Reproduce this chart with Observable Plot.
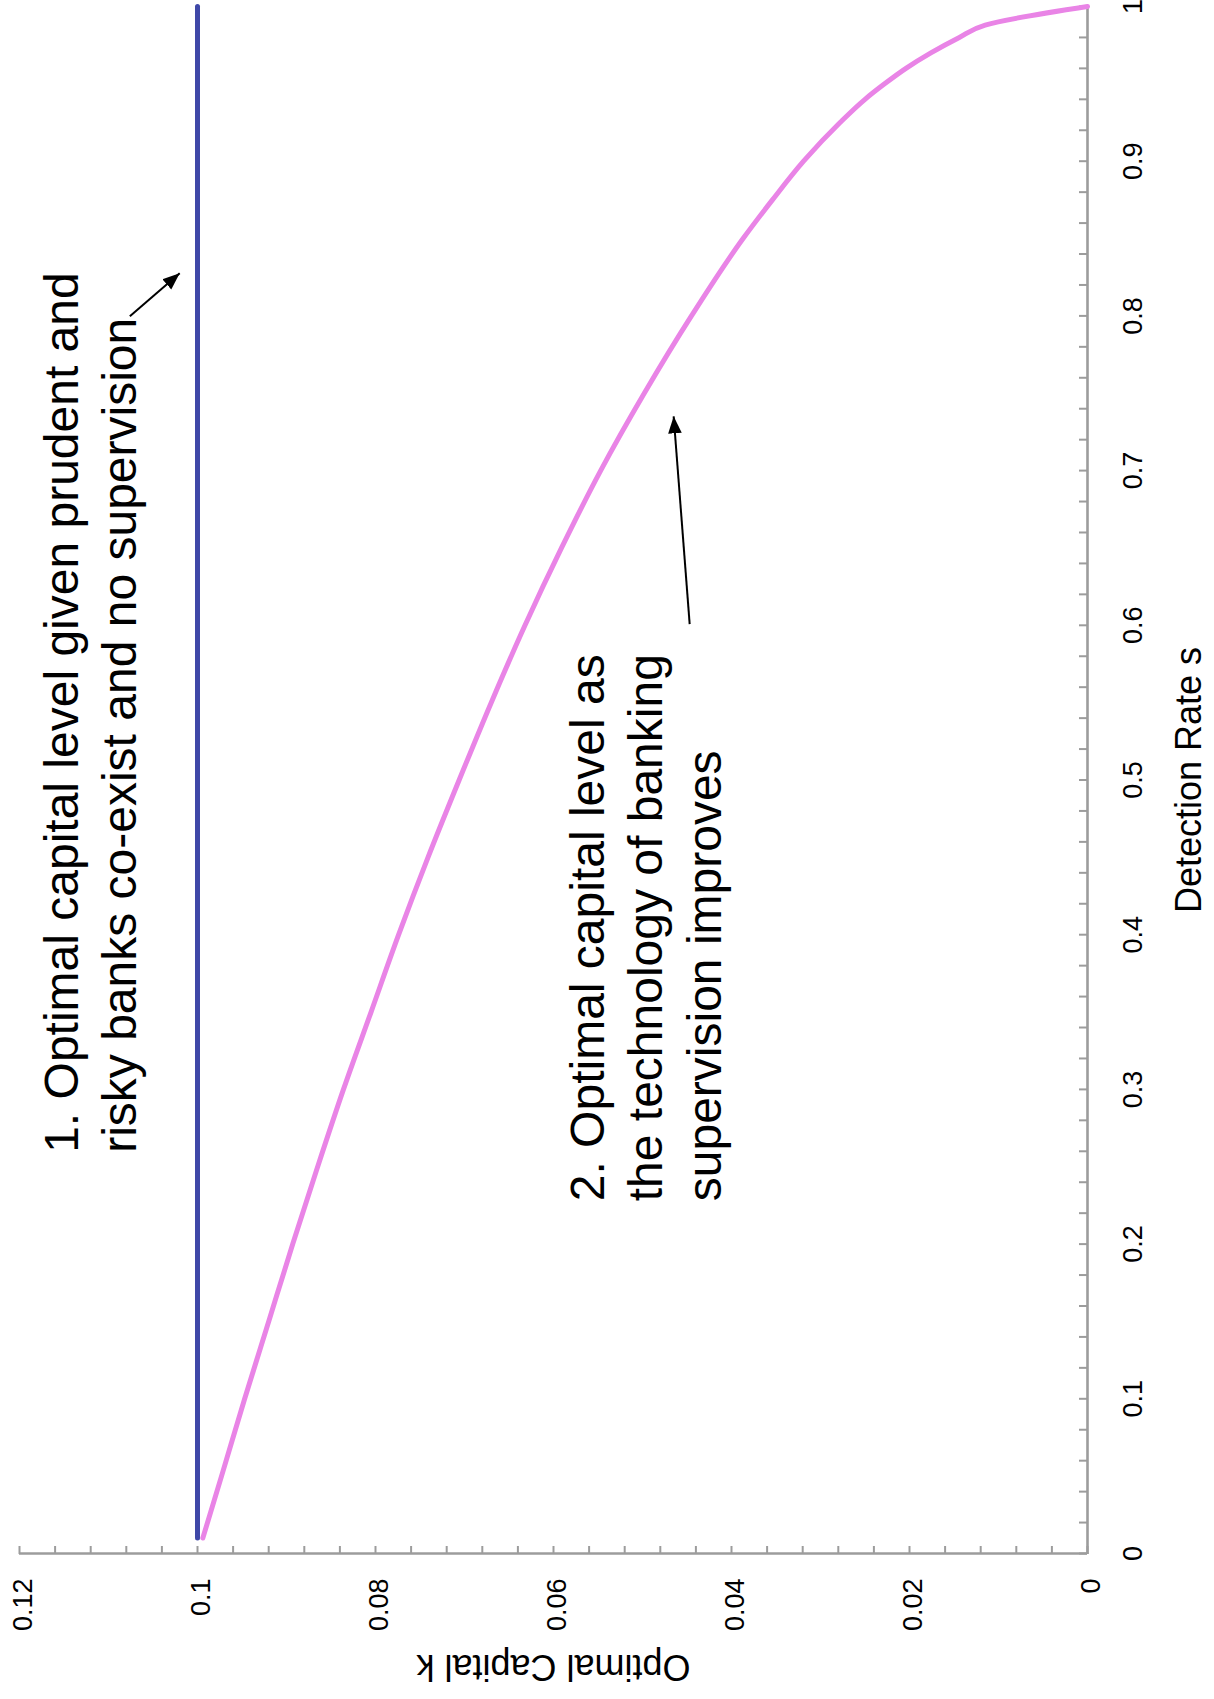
<!DOCTYPE html>
<html>
<head>
<meta charset="utf-8">
<script src="https://cdn.jsdelivr.net/npm/d3@7"></script>
<script src="https://cdn.jsdelivr.net/npm/@observablehq/plot@0.6"></script>
<style>
html, body { margin: 0; padding: 0; background: #fff; }
#page { position: relative; width: 1214px; height: 1699px; overflow: hidden; background: #fff; }
#chart { position: absolute; left: 0; top: 0; width: 1699px; height: 1214px; transform-origin: 0 0; transform: translate(0, 1699px) rotate(-90deg); }
</style>
</head>
<body>
<div id="page"><div id="chart"></div></div>
<script>
// ---- data ----
const detectionRate = [0.01, 0.05, 0.1, 0.15, 0.2, 0.25, 0.3, 0.35, 0.4, 0.45, 0.5, 0.55, 0.6, 0.65, 0.7, 0.75, 0.8, 0.85, 0.875, 0.9, 0.925, 0.94, 0.95, 0.96, 0.97, 0.98, 0.988, 1];
const capitalWithSupervision = [0.0994, 0.0973, 0.0947, 0.0920, 0.0893, 0.0865, 0.0836, 0.0805, 0.0774, 0.0741, 0.0706, 0.0670, 0.0632, 0.0591, 0.0547, 0.0498, 0.0445, 0.0387, 0.0354, 0.0319, 0.0278, 0.0250, 0.0228, 0.0204, 0.0176, 0.0144, 0.0115, 0];
const noSupervisionRate = [0.01, 1];
const noSupervisionCapital = [0.1, 0.1];

const sTickValues = [0, 0.1, 0.2, 0.3, 0.4, 0.5, 0.6, 0.7, 0.8, 0.9, 1];
const kTickValues = [0, 0.02, 0.04, 0.06, 0.08, 0.1, 0.12];
const sMinorStep = 0.02;
const kMinorStep = 0.004;

const note1Lines = ["1. Optimal capital level given prudent and", "risky banks co-exist and no supervision"];
const note1Rate = 0.259;
const note1Capital = [0.1134, 0.1069];
const note2Lines = ["2. Optimal capital level as", "the technology of banking", "supervision improves"];
const note2Rate = 0.2277;
const note2Capital = [0.0543, 0.0478, 0.0412];

const arrowFromRate = [0.7997, 0.6008];
const arrowFromCapital = [0.1076, 0.0447];
const arrowToRate = [0.8275, 0.7351];
const arrowToCapital = [0.1020, 0.0465];

// ---- tables ----
const curve = detectionRate.map((s, i) => ({s, k: capitalWithSupervision[i]}));
const flat = noSupervisionRate.map((s, i) => ({s, k: noSupervisionCapital[i]}));
const sMinor = d3.range(0, 1 + 1e-9, sMinorStep);
const kMinor = d3.range(0, 0.12 + 1e-9, kMinorStep);
const notes = [
  ...note1Lines.map((t, i) => ({t, s: note1Rate, k: note1Capital[i]})),
  ...note2Lines.map((t, i) => ({t, s: note2Rate, k: note2Capital[i]}))
];
const arrows = arrowFromRate.map((s, i) => ({s1: s, k1: arrowFromCapital[i], s2: arrowToRate[i], k2: arrowToCapital[i]}));

const W = 1699, H = 1214;
const mL = 145, mR = 7, mT = 19, mB = 127;
const frameW = W - mL - mR, frameH = H - mT - mB;
const axisGray = "#9c9c9c";
const font = "'Liberation Sans', Arial, Helvetica, sans-serif";
const fmt = d3.format("~g");

function filledArrow(color, context) {
  const ns = "http://www.w3.org/2000/svg";
  const doc = (context && context.document) || document;
  const m = doc.createElementNS(ns, "marker");
  m.setAttribute("viewBox", "0 -5 10 10");
  m.setAttribute("refX", "10");
  m.setAttribute("refY", "0");
  m.setAttribute("markerUnits", "userSpaceOnUse");
  m.setAttribute("markerWidth", "17");
  m.setAttribute("markerHeight", "17");
  m.setAttribute("orient", "auto");
  const p = doc.createElementNS(ns, "path");
  p.setAttribute("d", "M0,-4L10,0L0,4Z");
  p.setAttribute("fill", color);
  p.setAttribute("stroke", "none");
  m.appendChild(p);
  return m;
}

const chart = Plot.plot({
  width: W,
  height: H,
  marginLeft: mL,
  marginRight: mR,
  marginTop: mT,
  marginBottom: mB,
  style: {fontFamily: font, background: "#fff", color: "#000", overflow: "visible", maxWidth: "none"},
  x: {domain: [0, 1], label: null},
  y: {domain: [0, 0.12], label: null},
  marks: [
    Plot.tickX(sMinor, {x: d => d, stroke: axisGray, strokeWidth: 2, insetTop: frameH - 8}),
    Plot.tickY(kMinor, {y: d => d, stroke: axisGray, strokeWidth: 2, insetRight: frameW - 8}),
    Plot.ruleY([0], {stroke: axisGray, strokeWidth: 2.6}),
    Plot.ruleX([0], {stroke: axisGray, strokeWidth: 2.6}),
    Plot.axisX(sTickValues, {tickSize: 0, tickPadding: 35, fontSize: 27, tickFormat: fmt, label: null, fill: "#000"}),
    Plot.axisY(kTickValues, {tickSize: 0, tickPadding: 25, fontSize: 27, tickFormat: fmt, label: null, dy: 4, fill: "#000"}),
    Plot.text(["Detection Rate s"], {frameAnchor: "bottom", lineAnchor: "bottom", dy: 113, fontSize: 36, fill: "#000"}),
    Plot.text(["Optimal Capital k"], {frameAnchor: "left", lineAnchor: "bottom", textAnchor: "middle", rotate: -90, dx: -101, fontSize: 36, fill: "#000"}),
    Plot.line(flat, {x: "s", y: "k", stroke: "#3f48a8", strokeWidth: 5, strokeLinecap: "round"}),
    Plot.line(curve, {x: "s", y: "k", stroke: "#e984e6", strokeWidth: 5, strokeLinecap: "round", strokeLinejoin: "round", curve: "monotone-x"}),
    Plot.link(arrows, {x1: "s1", y1: "k1", x2: "s2", y2: "k2", stroke: "#000", strokeWidth: 2, markerEnd: filledArrow}),
    Plot.text(notes, {x: "s", y: "k", text: "t", textAnchor: "start", lineAnchor: "bottom", fontSize: 48, fill: "#000"})
  ]
});
document.getElementById("chart").appendChild(chart);
</script>
</body>
</html>
